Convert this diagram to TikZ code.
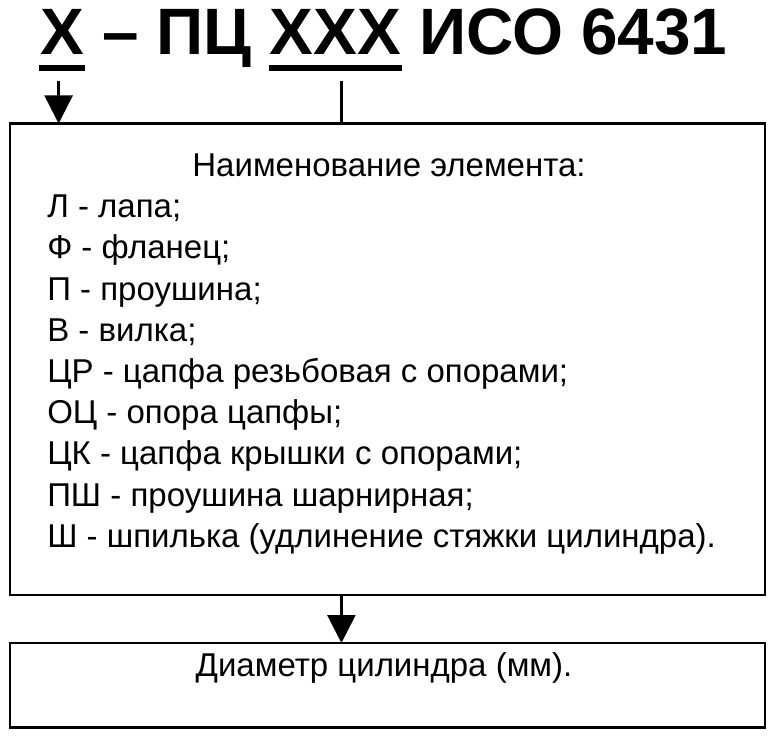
\documentclass[tikz,border=0pt]{standalone}
\usepackage{fontspec}
\setmainfont{Liberation Sans}
\usetikzlibrary{arrows.meta, positioning}

\begin{document}
\begin{tikzpicture}[x=1pt, y=-1pt, line width=2.5pt, >={Triangle[length=28pt, width=28pt]},
    font=\fontsize{33}{38}\selectfont,
    code/.style={font=\fontsize{65.6}{70}\selectfont\bfseries, inner sep=0pt, anchor=base west},
    entry/.style={inner sep=0pt, anchor=base west},
    frame/.style={draw, minimum width=755pt, inner sep=0pt, outer sep=0pt}]
    \useasboundingbox (0,0) rectangle (779,738);

    % designation line
    \node[code] (sym) at (39,55) {X};
    \node[code, right=15.5pt of sym.base east, anchor=base west] (kind) {– ПЦ};
    \node[code, right=15.5pt of kind.base east, anchor=base west] (dia) {XXX};
    \node[code, right=15.5pt of dia.base east, anchor=base west] (iso) {ИСО 6431};
    \draw[line width=5.5pt] ([yshift=-13pt]sym.base west) -- ([yshift=-13pt]sym.base east);
    \draw[line width=5.5pt] ([yshift=-13pt]dia.base west) -- ([yshift=-13pt]dia.base east);

    % boxes
    \node[frame, minimum height=471.5pt] (elem) at (387.5,359.25) {};
    \node[frame, minimum height=84.5pt] (diam) at (387.5,685.25) {};

    \coordinate (lead) at ([xshift=6pt, yshift=-26pt]dia.base);
    \draw[->] ([xshift=-3.5pt, yshift=-26pt]sym.base) -- ([xshift=-3.5pt]sym.base |- elem.north);
    \draw (lead) -- (lead |- elem.north);
    \draw[->] (lead |- elem.south) -- (lead |- diam.north);

    % element list
    \node[entry, anchor=base] (head) at (389,176.5) {Наименование элемента:};
    \foreach \i/\txt in {1/{Л - лапа;}, 2/{Ф - фланец;}, 3/{П - проушина;}, 4/{В - вилка;},
        5/{ЦР - цапфа резьбовая с опорами;}, 6/{ОЦ - опора цапфы;},
        7/{ЦК - цапфа крышки с опорами;}, 8/{ПШ - проушина шарнирная;},
        9/{Ш - шпилька (удлинение стяжки цилиндра).}} {
        \node[entry] (item\i) at (46,{176.5+41.2*\i}) {\txt};
    };

    \node[entry, anchor=base] (size) at (384,676.7) {Диаметр цилиндра (мм).};
\end{tikzpicture}
\end{document}
